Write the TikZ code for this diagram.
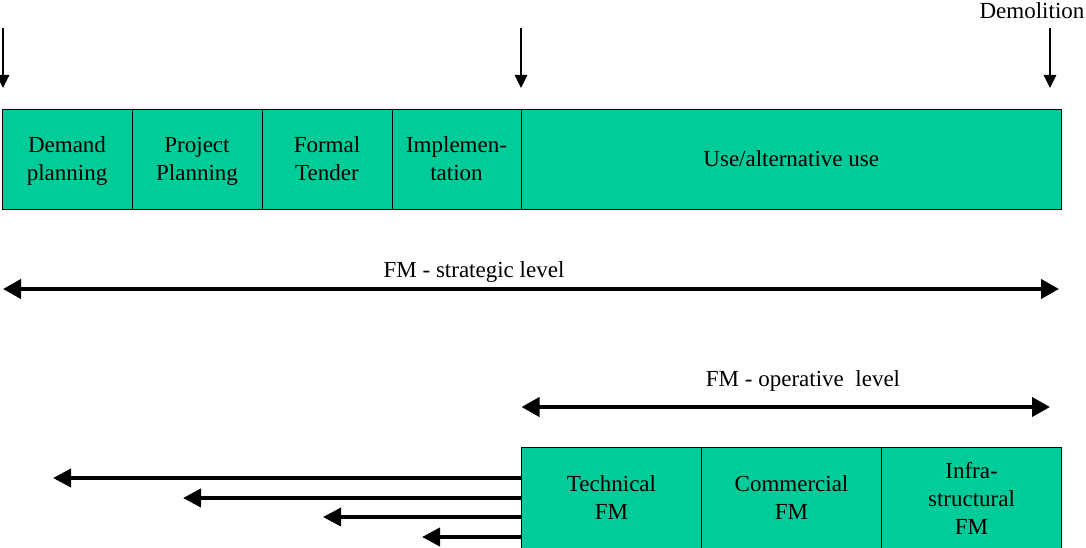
\documentclass[tikz,border=0pt]{standalone}
\usepackage{fontspec}
\setmainfont{Liberation Serif}
\usetikzlibrary{arrows.meta}
\definecolor{phase}{RGB}{0,204,153}
\begin{document}
\begin{tikzpicture}[x=1pt,y=-1pt,
  every node/.style={font=\fontsize{23}{28}\selectfont, inner sep=0pt},
  cell/.style={draw=black, line width=0.9pt, fill=phase, rectangle},
  celltext/.style={align=center},
  marker/.style={line width=1.3pt, -{Triangle[length=13pt,width=12.5pt]}},
  span/.style={line width=4pt, {Triangle[length=18pt,width=19pt]}-{Triangle[length=18pt,width=19pt]}},
  outflow/.style={line width=4pt, -{Triangle[length=18pt,width=18pt]}}]
\useasboundingbox (0,0) rectangle (1086,548);

% life-cycle phases
\node[cell, minimum width=130pt, minimum height=100pt] (demand) at (67,159) {};
\node[cell, minimum width=130pt, minimum height=100pt] (project) at (197,159) {};
\node[cell, minimum width=130pt, minimum height=100pt] (tender) at (327,159) {};
\node[cell, minimum width=129pt, minimum height=100pt] (impl) at (456.5,159) {};
\node[cell, minimum width=539.5pt, minimum height=100pt] (use) at (791.25,159) {};
\node[celltext] (demandtxt) at ([yshift=-2.4pt]demand.center) {Demand\strut\\planning\strut};
\node[celltext] (projecttxt) at ([yshift=-2.4pt]project.center) {Project\strut\\Planning\strut};
\node[celltext] (tendertxt) at ([yshift=-2.4pt]tender.center) {Formal\strut\\Tender\strut};
\node[celltext] (impltxt) at ([yshift=-2.4pt]impl.center) {Implemen-\strut\\tation\strut};
\node[celltext] (usetxt) at ([yshift=-2.4pt]use.center) {Use/alternative use\strut};

% operative FM areas
\node[cell, minimum width=180pt, minimum height=101pt] (tech) at (611.5,498) {};
\node[cell, minimum width=180pt, minimum height=101pt] (comm) at (791.5,498) {};
\node[cell, minimum width=180pt, minimum height=101pt] (infra) at (971.5,498) {};
\node[celltext] (techtxt) at ([yshift=-2pt]tech.center) {Technical\strut\\FM\strut};
\node[celltext] (commtxt) at ([yshift=-2pt]comm.center) {Commercial\strut\\FM\strut};
\node[celltext] (infratxt) at ([yshift=-2.5pt]infra.center) {Infra-\strut\\structural\strut\\FM\strut};

% milestone markers
\node (demol) at (1032,11) {Demolition};
\coordinate (m1s) at (3,28);   \coordinate (m1e) at (3,88);
\coordinate (m2s) at (521,28); \coordinate (m2e) at (521,88);
\coordinate (m3s) at (1050,28); \coordinate (m3e) at (1050,88);
\draw[marker] (m1s) -- (m1e);
\draw[marker] (m2s) -- (m2e);
\draw[marker] (m3s) -- (m3e);

% strategic level
\coordinate (sL) at (3,289); \coordinate (sR) at (1059,289);
\draw[span] (sL) -- (sR);
\node (slabel) at (474,272) {FM - strategic level};

% operative level
\coordinate (oL) at (521.5,407); \coordinate (oR) at (1050,407);
\draw[span] (oL) -- (oR);
\node (olabel) at (803,381) {FM - operative\ \ level};

% outgoing services
\coordinate (t1) at (53,478);
\coordinate (t2) at (183,498);
\coordinate (t3) at (323,517);
\coordinate (t4) at (422,537);
\draw[outflow] (tech.west |- t1) -- (t1);
\draw[outflow] (tech.west |- t2) -- (t2);
\draw[outflow, line width=3.5pt] (tech.west |- t3) -- (t3);
\draw[outflow] (tech.west |- t4) -- (t4);
\end{tikzpicture}
\end{document}
